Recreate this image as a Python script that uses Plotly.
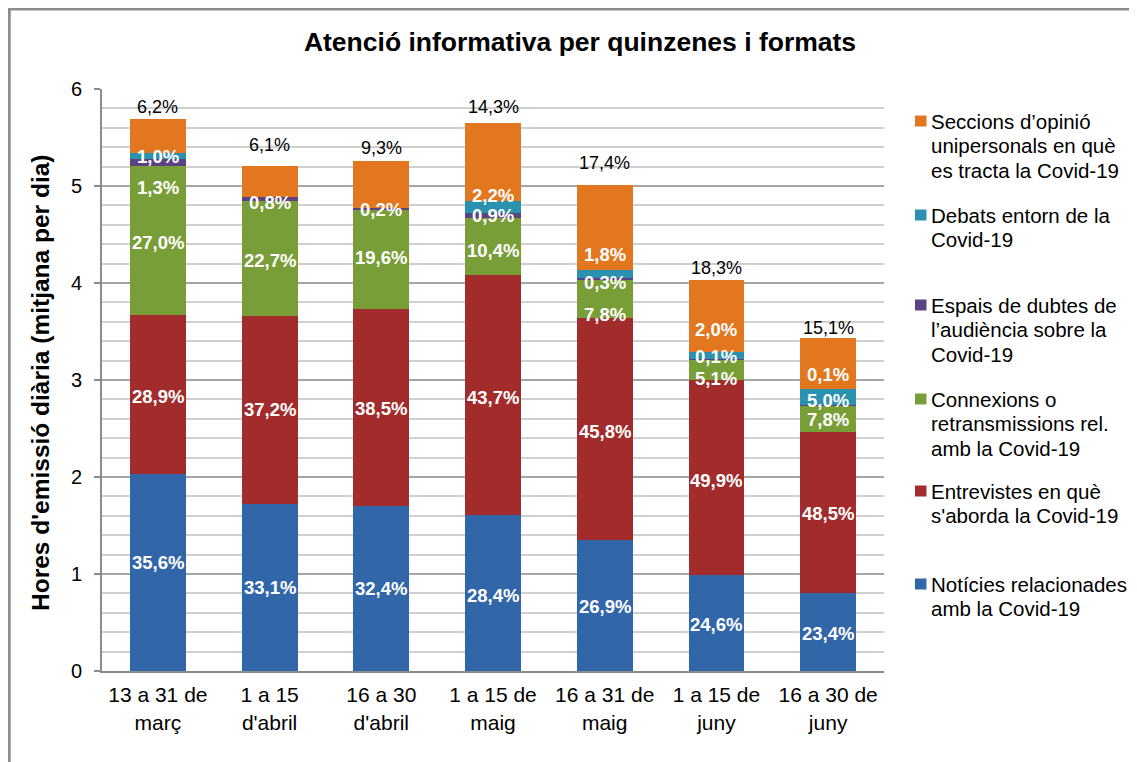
import plotly.graph_objects as go

# ---------------- data ----------------
categories = ["13 a 31 de<br>març", "1 a 15<br>d'abril", "16 a 30<br>d'abril",
              "1 a 15 de<br>maig", "16 a 31 de<br>maig", "1 a 15 de<br>juny",
              "16 a 30 de<br>juny"]

# hours of daily broadcast (average per day)
noticies    = [2.026, 1.725, 1.704, 1.607, 1.348, 0.991, 0.803]
entrevistes = [1.644, 1.938, 2.025, 2.473, 2.295, 2.011, 1.664]
connexions  = [1.536, 1.183, 1.031, 0.589, 0.391, 0.206, 0.268]
espais      = [0.074, 0.042, 0.011, 0.051, 0.015, 0.004, 0.003]
debats      = [0.057, 0.000, 0.000, 0.125, 0.090, 0.081, 0.172]
seccions    = [0.353, 0.318, 0.489, 0.809, 0.872, 0.737, 0.518]

# percentage labels shown on the chart
noticies_lbl    = ["35,6%", "33,1%", "32,4%", "28,4%", "26,9%", "24,6%", "23,4%"]
entrevistes_lbl = ["28,9%", "37,2%", "38,5%", "43,7%", "45,8%", "49,9%", "48,5%"]
connexions_lbl  = ["27,0%", "22,7%", "19,6%", "10,4%", "7,8%", "5,1%", "7,8%"]
espais_lbl      = ["1,3%", "0,8%", "0,2%", "0,9%", "0,3%", "0,1%", "0,1%"]
debats_lbl      = ["1,0%", "", "", "2,2%", "1,8%", "2,0%", "5,0%"]
seccions_lbl    = ["6,2%", "6,1%", "9,3%", "14,3%", "17,4%", "18,3%", "15,1%"]

names = ["Notícies relacionades<br>amb la Covid-19",
         "Entrevistes en què<br>s'aborda la Covid-19",
         "Connexions o<br>retransmissions rel.<br>amb la Covid-19",
         "Espais de dubtes de<br>l’audiència sobre la<br>Covid-19",
         "Debats entorn de la<br>Covid-19",
         "Seccions d’opinió<br>unipersonals en què<br>es tracta la Covid-19"]

# ---------------- style ----------------
colors = ["#3166A9", "#A22C2C", "#799E37", "#5C4282", "#2A92AF", "#E2771F"]
FONT = "Liberation Sans, Arial, sans-serif"

# label nudges in pixels (positive = up), per series, per bar
nudges = [
    [10, 0, 0, -2, -1, -2, -1],
    [-2, 0, -1, -2, -3, -3, -1],
    [-2, -2, 2, -4, -16, -9, -1],
    [-25, -4, -1, 0, -4, 3, 31],
    [0, 0, 0, 12, 19, 26, -3],
]
top_gaps = [12, 21, 13, 16, 22, 12, 10]

series = [noticies, entrevistes, connexions, espais, debats, seccions]
labels = [noticies_lbl, entrevistes_lbl, connexions_lbl, espais_lbl, debats_lbl, seccions_lbl]

fig = go.Figure()
for vals, name, col in zip(series, names, colors):
    fig.add_trace(go.Bar(x=categories, y=vals, name=name,
                         marker=dict(color=col, line=dict(width=0)),
                         hoverinfo="skip"))

# segment labels
base = [0.0] * len(categories)
annotations = []
for si, (vals, lbls) in enumerate(zip(series, labels)):
    for ci, (v, t) in enumerate(zip(vals, lbls)):
        if si < 5 and t:
            annotations.append(dict(x=categories[ci], y=base[ci] + v / 2, text="<b>" + t + "</b>",
                                    showarrow=False, yshift=nudges[si][ci],
                                    font=dict(family=FONT, size=18.5, color="white"),
                                    xanchor="center", yanchor="middle"))
        base[ci] += v

# labels above bars (seccions d'opinió)
for ci, t in enumerate(seccions_lbl):
    annotations.append(dict(x=categories[ci], y=base[ci], text=t, showarrow=False,
                            yshift=top_gaps[ci], xanchor="center", yanchor="middle",
                            font=dict(family=FONT, size=18, color="black")))

# geometry (page pixels; the page body adds an 8px offset)
OFF = 8
PAGE_W, PAGE_H = 1137, 762
X0, X1, Y0, Y1 = 102, 884, 89, 671      # plot area in page pixels
W, H = PAGE_W - OFF, PAGE_H - OFF
L, T = X0 - OFF, Y0 - OFF
R, B = PAGE_W - X1, PAGE_H - Y1
PW, PH = X1 - X0, Y1 - Y0


def px(x):
    return (x - X0) / PW


def py(y):
    return (Y1 - y) / PH


# y axis title
annotations.append(dict(xref="paper", yref="paper", x=px(40), y=py(383),
                        text="<b>Hores d'emissió diària (mitjana per dia)</b>",
                        textangle=-90, showarrow=False, xanchor="center", yanchor="middle",
                        font=dict(family=FONT, size=24.5, color="black")))

# custom legend (top to bottom: reversed order)
legend_centers = [584, 491, 399, 305, 215, 121]
LINE = 24.7
shapes = []
for name, col, cy in zip(names, colors, legend_centers):
    shapes.append(dict(type="rect", xref="paper", yref="paper",
                       x0=px(915), x1=px(926.5), y0=py(cy + 5.5), y1=py(cy - 5.5),
                       fillcolor=col, line=dict(width=0)))
    for li, line in enumerate(name.split("<br>")):
        annotations.append(dict(xref="paper", yref="paper", x=px(929), y=py(cy + li * LINE),
                                text=line, showarrow=False, xanchor="left", yanchor="middle",
                                align="left", font=dict(family=FONT, size=20.5, color="black")))

# outer frame (chart border, cropped on right/bottom)
shapes.append(dict(type="line", xref="paper", yref="paper", x0=px(9), x1=px(9),
                   y0=py(PAGE_H + 20), y1=py(7.2), line=dict(color="#8C8C8C", width=3.5)))
shapes.append(dict(type="line", xref="paper", yref="paper", x0=px(7.2), x1=px(PAGE_W + 20),
                   y0=py(8.7), y1=py(8.7), line=dict(color="#8C8C8C", width=3.5)))

fig.update_layout(
    width=W, height=H,
    margin=dict(l=L, r=R, t=T, b=B),
    barmode="stack", bargap=0.5,
    showlegend=False,
    plot_bgcolor="white", paper_bgcolor="white",
    font=dict(family=FONT, color="black"),
    title=dict(text="<b>Atenció informativa per quinzenes i formats</b>",
               x=(580 - OFF) / W, xanchor="center", xref="container",
               y=1 - (42 - OFF) / H, yanchor="middle", yref="container",
               font=dict(family=FONT, size=26.5, color="black")),
    annotations=annotations,
    shapes=shapes,
)
fig.update_yaxes(range=[0, 6], dtick=1, tickfont=dict(size=20, color="black"),
                 showgrid=True, gridcolor="#A6A6A6", gridwidth=2,
                 minor=dict(dtick=0.2, showgrid=True, gridcolor="#D0D0D0", gridwidth=2, ticks=""),
                 showline=True, linecolor="#8C8C8C", linewidth=2,
                 ticks="outside", ticklen=6, tickcolor="#8C8C8C", tickwidth=2,
                 zeroline=False, ticklabelstandoff=8)
fig.update_xaxes(showline=True, linecolor="#8C8C8C", linewidth=2,
                 tickfont=dict(size=21, color="black"), ticks="",
                 range=[-0.5, 6.5], ticklabelstandoff=4)

fig.write_html("out.html")
